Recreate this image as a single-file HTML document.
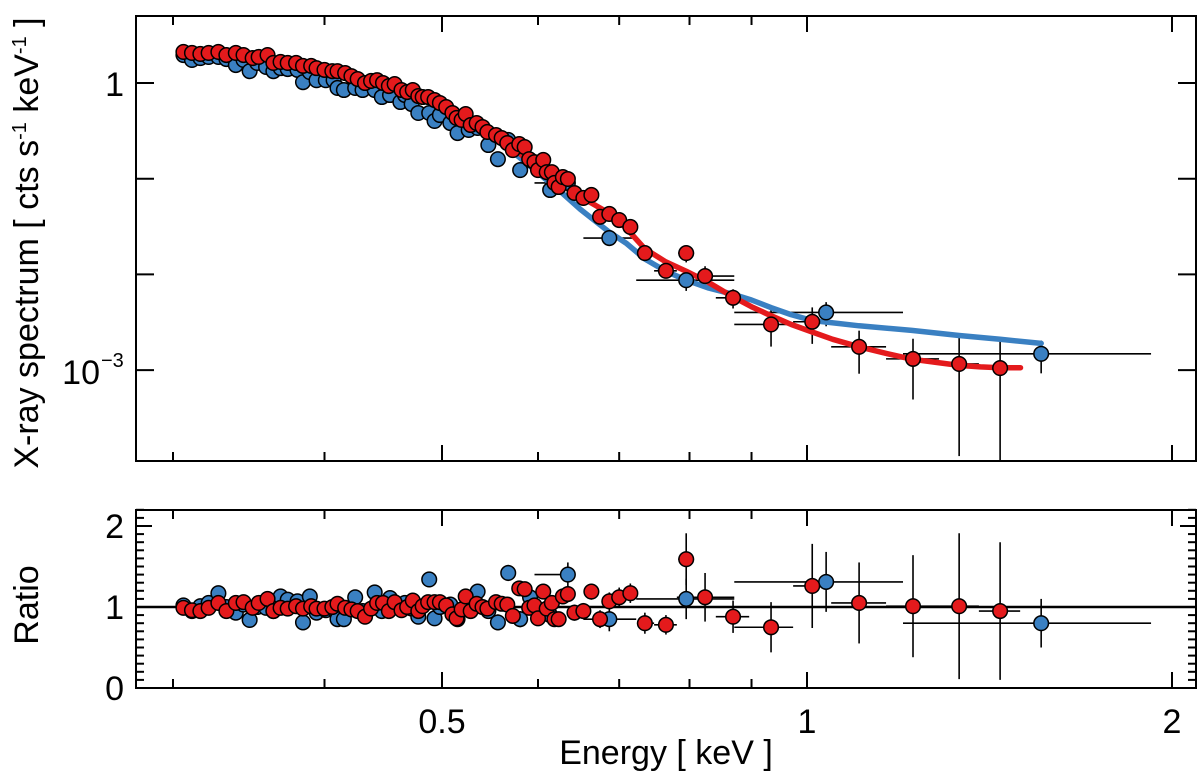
<!DOCTYPE html>
<html><head><meta charset="utf-8"><style>
html,body{margin:0;padding:0;background:#fff;}
svg{display:block;font-family:"Liberation Sans",Arial,sans-serif;}
</style></head><body>
<svg id="chart" width="1200" height="778" viewBox="0 0 1200 778" xmlns="http://www.w3.org/2000/svg"></svg>
<script>
// ---- data ----
const redEnergy=[0.306,0.311,0.316,0.321,0.327,0.332,0.338,0.343,0.349,0.353,0.359,0.363,0.368,0.373,0.379,0.384,0.390,0.394,0.400,0.406,0.410,0.416,0.421,0.426,0.432,0.437,0.442,0.447,0.452,0.457,0.463,0.468,0.473,0.478,0.482,0.487,0.493,0.498,0.504,0.510,0.514,0.519,0.523,0.528,0.534,0.540,0.545,0.554,0.560,0.566,0.572,0.579,0.585,0.590,0.596,0.600,0.606,0.610,0.616,0.619,0.624,0.629,0.635,0.643,0.654,0.664,0.675,0.687,0.700,0.715,0.735,0.765,0.795,0.824,0.869,0.934,1.010,1.104,1.223,1.335,1.443];
const redCounts=[2.11,2.06,2.01,2.06,2.11,1.96,2.06,1.96,1.82,1.87,1.96,1.62,1.66,1.62,1.62,1.51,1.51,1.43,1.37,1.33,1.33,1.27,1.18,1.10,1.0,1.05,1.07,1.0,0.93,0.976,0.845,0.805,0.845,0.731,0.714,0.714,0.664,0.618,0.561,0.486,0.431,0.411,0.474,0.364,0.382,0.347,0.308,0.286,0.266,0.236,0.199,0.230,0.214,0.160,0.149,0.123,0.157,0.117,0.117,0.0903,0.0819,0.104,0.0993,0.0709,0.0629,0.0676,0.0400,0.0428,0.0370,0.0313,0.0167,0.0109,0.0167,0.0096,0.0057,0.0030,0.0032,0.00175,0.00131,0.00116,0.00105];
const redRatio=[0.99,0.96,0.95,0.99,1.05,0.95,1.05,1.06,0.99,1.05,1.10,0.95,0.99,0.98,1.01,0.98,1.01,0.98,0.98,1.00,1.04,0.99,0.97,0.95,0.88,0.98,1.05,1.05,0.95,1.06,0.96,1.00,1.08,0.95,1.01,1.06,1.06,1.06,1.02,0.91,0.86,0.97,1.13,0.95,1.04,1.00,0.98,1.06,1.04,1.03,0.89,1.23,1.22,0.99,1.02,0.86,1.19,0.98,1.05,0.85,0.85,1.13,1.16,0.93,0.95,1.19,0.85,1.07,1.12,1.17,0.80,0.78,1.59,1.12,0.88,0.75,1.26,1.05,1.01,1.01,0.95];
const redRatioErr=[0.04,0.04,0.04,0.04,0.04,0.04,0.04,0.04,0.04,0.04,0.04,0.04,0.04,0.04,0.04,0.04,0.04,0.04,0.04,0.04,0.04,0.04,0.04,0.04,0.04,0.05,0.05,0.05,0.05,0.05,0.05,0.05,0.05,0.05,0.05,0.06,0.06,0.06,0.06,0.06,0.06,0.06,0.06,0.06,0.07,0.07,0.07,0.07,0.07,0.07,0.07,0.08,0.08,0.08,0.08,0.08,0.08,0.09,0.09,0.09,0.09,0.09,0.1,0.1,0.1,0.1,0.11,0.11,0.12,0.12,0.13,0.12,0.32,0.30,0.20,0.31,0.52,0.50,0.63,0.90,0.85];
const redBinLo=[0.724,0.748,0.783,0.781,0.841,0.871,0.974,1.047,1.162,1.285,1.386];
const redBinHi=[0.748,0.781,0.807,0.871,0.896,0.974,1.047,1.162,1.285,1.386,1.499];

const blueEnergy=[0.306,0.311,0.316,0.321,0.327,0.332,0.338,0.343,0.347,0.352,0.358,0.363,0.368,0.373,0.380,0.384,0.389,0.394,0.401,0.407,0.410,0.415,0.424,0.430,0.440,0.446,0.453,0.462,0.466,0.472,0.478,0.488,0.493,0.498,0.508,0.515,0.526,0.535,0.546,0.556,0.567,0.580,0.591,0.614,0.635,0.687,0.795,1.037,1.560];
const blueCounts=[1.96,1.74,1.82,1.87,1.87,1.78,1.54,1.74,1.33,1.62,1.47,1.33,1.43,1.40,1.37,1.02,1.30,1.07,1.07,1.07,0.887,0.845,0.887,0.845,0.845,0.714,0.749,0.633,0.749,0.603,0.486,0.486,0.401,0.463,0.382,0.300,0.323,0.339,0.225,0.160,0.254,0.123,0.157,0.0762,0.0903,0.0240,0.0087,0.0040,0.00148];
const blueRatio=[1.02,0.95,1.01,1.05,1.17,1.00,0.93,1.03,0.84,1.00,0.99,0.95,1.13,1.09,1.07,0.81,1.13,0.93,0.96,0.97,0.85,0.85,1.12,0.95,1.18,0.95,1.11,1.00,1.05,0.98,0.88,1.34,0.86,1.00,1.03,0.85,1.05,1.19,0.95,0.81,1.42,0.85,1.12,0.90,1.40,0.85,1.10,1.31,0.80];
const blueRatioErr=[0.05,0.05,0.05,0.05,0.05,0.05,0.05,0.05,0.05,0.05,0.05,0.05,0.05,0.05,0.06,0.06,0.06,0.06,0.06,0.06,0.06,0.06,0.06,0.06,0.07,0.07,0.07,0.07,0.07,0.07,0.08,0.08,0.08,0.08,0.08,0.08,0.09,0.09,0.09,0.1,0.1,0.1,0.1,0.12,0.15,0.15,0.25,0.37,0.30];
const blueBinLo=[0.596,0.654,0.723,0.871,1.200];
const blueBinHi=[0.629,0.723,0.871,1.200,1.922];

const redModelE=[0.305,0.33,0.35,0.375,0.4,0.425,0.45,0.475,0.5,0.525,0.55,0.575,0.6,0.625,0.65,0.687,0.71,0.735,0.765,0.795,0.83,0.869,0.9,0.934,0.97,1.01,1.05,1.104,1.16,1.22,1.28,1.335,1.39,1.443,1.5];
const redModelV=[2.08,2.0,1.85,1.63,1.40,1.18,0.98,0.80,0.62,0.43,0.29,0.20,0.125,0.09,0.065,0.0435,0.03,0.0185,0.0135,0.0108,0.0082,0.0058,0.0046,0.0037,0.0030,0.0025,0.0021,0.00175,0.0015,0.0013,0.0012,0.00112,0.00108,0.00106,0.00106];
const blueModelE=[0.305,0.33,0.35,0.375,0.4,0.425,0.45,0.475,0.5,0.525,0.55,0.575,0.6,0.625,0.65,0.687,0.71,0.735,0.765,0.795,0.83,0.869,0.9,0.934,0.97,1.01,1.104,1.22,1.335,1.443,1.56];
const blueModelV=[1.92,1.85,1.72,1.52,1.30,1.10,0.91,0.74,0.57,0.40,0.27,0.18,0.115,0.075,0.048,0.0277,0.021,0.0145,0.0108,0.0087,0.0072,0.0062,0.0054,0.0045,0.0038,0.0033,0.0029,0.0026,0.0023,0.0021,0.0019];

const xTickVals=[0.3,0.4,0.5,0.6,0.7,0.8,0.9,1,2];
const xTickLabels={"0.5":"0.5","1":"1","2":"2"};
const ratioTickVals=[0,1,2];

// ---- axes ----
const L=136,R=1196,T1=16,B1=461,T2=510,B2=688;
const X=e=>807+1212.5*Math.log10(e);
const Y1=v=>83-95.7*Math.log10(v);
const Y2=r=>688-81*r;
const RED="#e41a1c",BLUE="#3a80c2";
const svg=document.getElementById('chart');
const NS="http://www.w3.org/2000/svg";
function mk(tag,attrs,parent){const el=document.createElementNS(NS,tag);for(const k in attrs)el.setAttribute(k,attrs[k]);(parent||svg).appendChild(el);return el;}
function clip(id,t,b){const d=mk('clipPath',{id:id});mk('rect',{x:L,y:t,width:R-L,height:b-t},d);}
clip('c1',T1,B1);clip('c2',T2,B2);

const g1=mk('g',{'clip-path':'url(#c1)'});


const g2=mk('g',{'clip-path':'url(#c2)'});



const rl=mk('line',{x1:L,x2:R,y1:Y2(1),y2:Y2(1),stroke:'#000','stroke-width':2.5},g2);



function series(E,V,Rt,Er,BLo,BHi,color,name){
  const n=E.length, off=n-BLo.length;
  const eb=mk('g',{stroke:'#000','stroke-width':1.6},g1);
  const eb2=mk('g',{stroke:'#000','stroke-width':1.6},g2);
  for(let i=0;i<n;i++){
    const x=X(E[i]);
    const rel=Er[i]/Rt[i];
    const vlo=V[i]*Math.max(1-rel,1e-6), vhi=V[i]*(1+rel);
    mk('line',{x1:x,x2:x,y1:Y1(vhi),y2:Y1(vlo)},eb);
    mk('line',{x1:x,x2:x,y1:Y2(Rt[i]+Er[i]),y2:Y2(Rt[i]-Er[i])},eb2);
    let xl=x-3,xr=x+3;
    if(i>=off){xl=X(BLo[i-off]);xr=X(BHi[i-off]);}
    mk('line',{x1:xl,x2:xr,y1:Y1(V[i]),y2:Y1(V[i])},eb);
    mk('line',{x1:xl,x2:xr,y1:Y2(Rt[i]),y2:Y2(Rt[i])},eb2);
  }
  return {draw(){
    const pg=mk('g',{fill:color,stroke:'#000','stroke-width':1.5},g1);
    const pg2=mk('g',{fill:color,stroke:'#000','stroke-width':1.5},g2);
    for(let i=0;i<n;i++){
      const c=mk('circle',{cx:X(E[i]),cy:Y1(V[i]),r:7.3},pg);
      
      
      const c2=mk('circle',{cx:X(E[i]),cy:Y2(Rt[i]),r:7.3},pg2);
      
      
    }}};
}
function model(E,V,color,name){
  const pts=E.map((e,i)=>X(e).toFixed(1)+','+Y1(V[i]).toFixed(1)).join(' ');
  const p=mk('polyline',{points:pts,fill:'none',stroke:color,'stroke-width':5.5,'stroke-linejoin':'round','stroke-linecap':'round'},g1);
  
  
}
const sb=series(blueEnergy,blueCounts,blueRatio,blueRatioErr,blueBinLo,blueBinHi,BLUE,'blue');
const sr=series(redEnergy,redCounts,redRatio,redRatioErr,redBinLo,redBinHi,RED,'red');
model(blueModelE,blueModelV,BLUE,'blue-model-line');
model(redModelE,redModelV,RED,'red-model-line');
sb.draw();sr.draw();

const ax=mk('g',{stroke:'#000','stroke-width':2,fill:'none'});


mk('rect',{x:L,y:T1,width:R-L,height:B1-T1},ax);
mk('rect',{x:L,y:T2,width:R-L,height:B2-T2},ax);
const tx=mk('g',{'font-size':34,fill:'#000','text-anchor':'middle'});


xTickVals.forEach(v=>{
  const x=X(v), major=(String(v) in xTickLabels), len=major?16:9;
  [[T1,1],[B1,-1],[T2,1],[B2,-1]].forEach(([y,d])=>mk('line',{x1:x,x2:x,y1:y,y2:y+d*len},ax));
  if(major){const t=mk('text',{x:x,y:733},tx);t.textContent=xTickLabels[String(v)];}
});
[1,0.1,0.01,0.001].forEach(v=>{const y=Y1(v);mk('line',{x1:L,x2:L+18,y1:y,y2:y},ax);mk('line',{x1:R,x2:R-18,y1:y,y2:y},ax);});
for(let k=0;k<=22;k++){const r=k/10,y=Y2(r),len=(k%10===0)?16:8;mk('line',{x1:L,x2:L+len,y1:y,y2:y},ax);mk('line',{x1:R,x2:R-len,y1:y,y2:y},ax);}
const t1=mk('text',{x:124,y:96,'text-anchor':'end'},tx);t1.textContent='1';
const t3=mk('text',{x:100,y:384,'text-anchor':'end'},tx);t3.textContent='10';
const t3s=mk('text',{x:101,y:367,'text-anchor':'start','font-size':20},tx);t3s.textContent='−3';
ratioTickVals.forEach(r=>{const t=mk('text',{x:124,y:Y2(r)+12,'text-anchor':'end'},tx);t.textContent=String(r);});
const xt=mk('text',{x:666,y:764,'font-size':34,'text-anchor':'middle'});xt.textContent='Energy [ keV ]';


const yt=mk('text',{x:0,y:0,'font-size':34,'text-anchor':'middle',transform:'translate(38,243) rotate(-90)'});
yt.innerHTML='X-ray spectrum [ cts s<tspan dy="-12" font-size="20">-1</tspan><tspan dy="12"> keV</tspan><tspan dy="-12" font-size="20">-1</tspan><tspan dy="12"> ]</tspan>';


const rt=mk('text',{x:0,y:0,'font-size':34,'text-anchor':'middle',transform:'translate(38,605) rotate(-90)'});rt.textContent='Ratio';


</script>
</body></html>
